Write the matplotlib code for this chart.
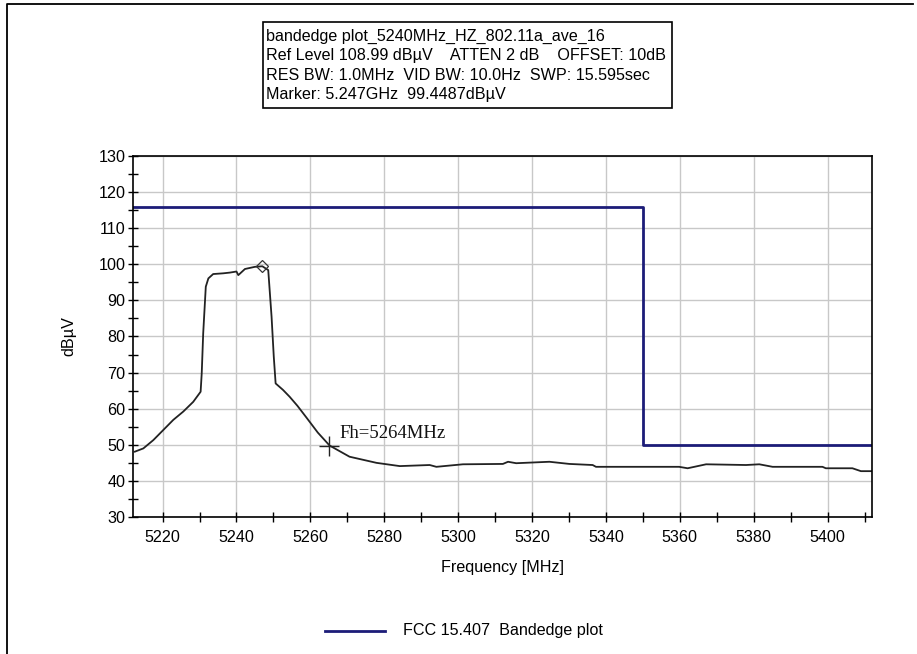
import numpy as np
import matplotlib
matplotlib.use("Agg")
import matplotlib.pyplot as plt
from matplotlib.lines import Line2D

# trace (MHz, dBuV)
freq = [5212.5, 5214.8, 5217.5, 5220.2, 5222.9, 5225.6, 5228.3, 5230.3, 5230.6,
        5231.0, 5231.7, 5232.4, 5233.7, 5236.4, 5238.2, 5240.0, 5240.5, 5242.3,
        5245.0, 5247.0, 5248.6, 5249.5, 5250.1, 5250.6, 5252.6, 5254.4, 5256.5,
        5258.9, 5262.0, 5265.2, 5270.6, 5277.9, 5284.2, 5292.3, 5294.1, 5301.3,
        5312.1, 5313.5, 5315.7, 5324.7, 5330.1, 5336.4, 5337.3, 5359.8, 5362.1,
        5367.1, 5377.9, 5381.5, 5385.1, 5398.6, 5399.5, 5406.7, 5409.0, 5411.9]
level = [48.1, 49.0, 51.3, 54.1, 56.9, 59.2, 61.9, 64.7, 69.8,
         80.9, 93.8, 96.1, 97.3, 97.5, 97.7, 98.0, 97.0, 98.7,
         99.3, 99.45, 98.4, 85.5, 74.4, 67.0, 65.2, 63.3, 60.8,
         57.6, 53.4, 49.8, 46.7, 45.0, 44.1, 44.4, 43.9, 44.6,
         44.7, 45.3, 44.9, 45.3, 44.7, 44.4, 43.9, 43.9, 43.5,
         44.6, 44.4, 44.6, 43.9, 43.9, 43.5, 43.5, 42.7, 42.7]

# FCC limit line
limit_f = [5212, 5350, 5350, 5412]
limit_db = [116, 116, 50, 50]

peak_f, peak_db = 5247.0, 99.45
fh_f, fh_db = 5265.0, 49.8

info_lines = [
    "bandedge plot_5240MHz_HZ_802.11a_ave_16",
    "Ref Level 108.99 dB\u00b5V    ATTEN 2 dB    OFFSET: 10dB",
    "RES BW: 1.0MHz  VID BW: 10.0Hz  SWP: 15.595sec",
    "Marker: 5.247GHz  99.4487dB\u00b5V",
]

plt.rcParams['font.family'] = ['Liberation Sans', 'DejaVu Sans']
navy = '#1c1c78'
fs = 11.6

fig = plt.figure(figsize=(9.17, 6.54), dpi=100)
ax = fig.add_axes([133/917, 1-517/654, (872-133)/917, (517-156)/654])

ax.plot(limit_f, limit_db, color=navy, lw=2.0)
ax.plot(freq, level, color='#222222', lw=1.3)
ax.plot(peak_f, peak_db, marker='D', ms=6, mfc='none', mec='#333333', mew=0.9)
ax.plot(fh_f, fh_db, marker='+', ms=14, color='#222222', mew=1.0)
ax.text(fh_f + 2.8, fh_db + 1.0, "Fh=5264MHz", family=['Liberation Serif'],
        fontsize=13.5, color='#111111', ha='left', va='bottom')

ax.set_xlim(5212, 5412)
ax.set_ylim(30, 130)
ax.set_xticks(np.arange(5220, 5401, 20))
ax.set_xticks(np.arange(5220, 5411, 10), minor=True)
ax.set_yticks(np.arange(30, 131, 10))
ax.set_yticks(np.arange(30, 131, 5), minor=True)
ax.grid(True, which='major', color='#c8c8c8', lw=1.0)
ax.set_axisbelow(True)
ax.tick_params(which='both', direction='inout', length=7, width=1.0,
               labelsize=fs, colors='black')
ax.tick_params(axis='x', pad=6)
ax.tick_params(axis='y', pad=2)
for s in ax.spines.values():
    s.set_linewidth(1.2)

ax.set_xlabel("Frequency [MHz]", fontsize=fs, labelpad=11)
ax.set_ylabel("dB\u00b5V", fontsize=fs, labelpad=16)

# info box at top
fig.patches.append(plt.Rectangle((263/917, 1-108/654), (672-263)/917, (108-22)/654,
                                 transform=fig.transFigure, fill=False,
                                 ec='black', lw=1.2))
for i, t in enumerate(info_lines):
    fig.text(266/917, 1-(36+19.5*i)/654, t, fontsize=fs, va='center', ha='left')

# legend at bottom
fig.lines.append(Line2D([325/917, 385/917], [1-631/654, 1-631/654],
                        transform=fig.transFigure, color=navy, lw=2.0))
fig.text(403/917, 1-631/654, "FCC 15.407  Bandedge plot", fontsize=fs, va='center')

# outer frame (left and top only)
fig.lines.append(Line2D([7/917, 7/917, 913/917], [0, 1-4/654, 1-4/654],
                        transform=fig.transFigure, color='black', lw=1.3))

fig.savefig("out.png", dpi=100)
